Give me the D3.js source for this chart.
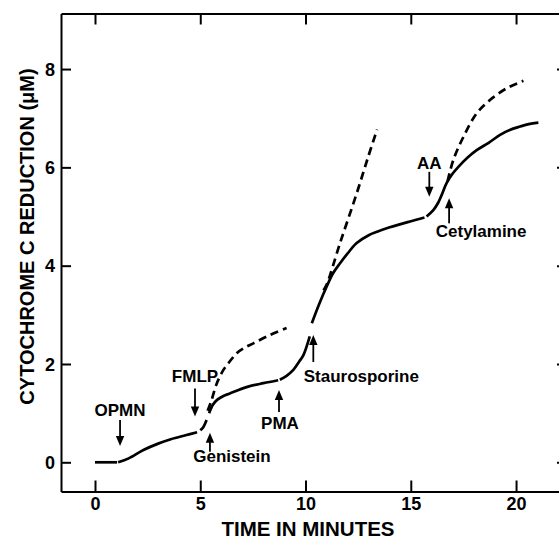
<!DOCTYPE html>
<html><head><meta charset="utf-8">
<script src="https://cdn.jsdelivr.net/npm/d3@7"></script>
<style>body{margin:0;background:#fff}svg{display:block}text{font-family:"Liberation Sans",Arial,sans-serif;font-weight:bold;fill:#000}</style>
</head><body><svg id="c" width="559" height="538"></svg>
<script>
// ---- data ----
const xTicks = [0, 5, 10, 15, 20];
const yTicks = [0, 2, 4, 6, 8];
const xTitle = "TIME IN MINUTES";
const yTitle = "CYTOCHROME C REDUCTION (\u03BCM)";

// solid trace, drawn as separate pieces (breaks at each addition)
const solidBaseline = [[0,0],[1.05,0]];
const solidOPMN = [[1.1,0],[1.6,0.08],[2.3,0.25],[3.0,0.38],[3.6,0.47],[4.3,0.55],[4.85,0.61]];
const solidFMLP = [[5.0,0.65],[5.15,0.72],[5.3,0.86]];
const solidGenistein = [[5.42,1.0],[5.6,1.17],[5.8,1.27],[6.1,1.35],[6.4,1.4],[7.2,1.53],[8.0,1.61],[8.7,1.67]];
const solidPMA = [[8.78,1.68],[9.1,1.76],[9.42,1.88],[9.7,2.05],[9.9,2.18],[10.2,2.56]];
const solidStauro = [[10.3,2.83],[10.65,3.22],[11.0,3.57],[11.3,3.84],[11.64,4.05],[12.0,4.25],[12.43,4.46],[13.0,4.62],[13.4,4.69],[14.0,4.78],[14.96,4.9],[15.65,4.98]];
const solidAA = [[15.75,5.0],[16.07,5.13],[16.3,5.28],[16.47,5.44],[16.7,5.68],[17.0,5.88],[17.26,6.01],[17.7,6.2],[18.13,6.35],[18.7,6.5],[19.24,6.66],[19.7,6.76],[20.19,6.83],[20.6,6.88],[21.06,6.91]];

// dashed traces (controls without the inhibitor)
const dashedFMLP = [[5.35,1.05],[5.54,1.27],[5.78,1.6],[6.1,1.88],[6.4,2.05],[6.73,2.22],[7.1,2.33],[7.52,2.42],[8.31,2.59],[9.1,2.73]];
const dashedPMA = [[10.85,3.5],[11.0,3.61],[11.64,4.46],[12.43,5.47],[12.98,6.22],[13.4,6.77]];
const dashedAA = [[16.75,5.72],[17.02,6.15],[17.5,6.62],[18.13,7.1],[18.76,7.37],[19.56,7.61],[20.35,7.76]];

// additions: label, time (min), value at arrow tip, direction
const eventLabels = ["OPMN", "FMLP", "Genistein", "PMA", "Staurosporine", "AA", "Cetylamine"];
const eventTimes  = [1.19, 4.75, 5.46, 8.74, 10.37, 15.88, 16.82];
const eventTips   = [0.33, 0.93, 0.60, 1.47, 2.59, 5.40, 5.37];
const eventDirs   = ["down", "down", "up", "up", "up", "down", "up"];

// ---- layout ----
const svg = d3.select("#c");
const x = d3.scaleLinear().domain([-1.615, 22.42]).range([61, 567]);
const y = d3.scaleLinear().domain([-0.594, 9.13]).range([491.5, 13.5]);

const lw = 2;
const gB = svg.append("g").attr("transform", `translate(0,${y.range()[0]})`)
  .call(d3.axisBottom(x).tickValues(xTicks).tickSizeInner(-11).tickSizeOuter(0).tickPadding(6));
const gT = svg.append("g").attr("transform", `translate(0,${y.range()[1]})`)
  .call(d3.axisTop(x).tickValues(xTicks).tickSizeInner(-11).tickSizeOuter(0).tickFormat(""));
const gL = svg.append("g").attr("transform", `translate(${x.range()[0]},0)`)
  .call(d3.axisLeft(y).tickValues(yTicks).tickSizeInner(-10).tickSizeOuter(0).tickPadding(6));
const gR = svg.append("g").attr("transform", `translate(${x.range()[1]},0)`)
  .call(d3.axisRight(y).tickValues(yTicks).tickSizeInner(-10).tickSizeOuter(0).tickFormat(""));
[gB, gT, gL, gR].forEach(g => {
  g.selectAll("path.domain").attr("stroke", "#000").attr("stroke-width", lw);
  g.selectAll(".tick line").attr("stroke", "#000").attr("stroke-width", lw);
  g.selectAll(".tick text").style("font-size", "18px").style("font-family", '"Liberation Sans",Arial,sans-serif').style("font-weight", "bold").attr("fill", "#000");
});
gL.selectAll(".tick text").attr("dy", "0.35em");

// titles
svg.append("text").attr("x", 308).attr("y", 528).attr("text-anchor", "middle")
  .attr("dominant-baseline", "central").style("font-size", "20.5px").text(xTitle);
svg.append("text").attr("transform", "translate(27,236.5) rotate(-90)").attr("text-anchor", "middle")
  .attr("dominant-baseline", "central").style("font-size", "20px").text(yTitle);

// traces
const line = d3.line().x(d => x(d[0])).y(d => y(d[1])).curve(d3.curveCatmullRom);
[solidBaseline, solidOPMN, solidFMLP, solidGenistein, solidPMA, solidStauro, solidAA].forEach(s => {
  svg.append("path").attr("d", line(s)).attr("fill", "none").attr("stroke", "#000")
    .attr("stroke-width", 2.7).attr("stroke-linecap", "butt");
});
[dashedFMLP, dashedPMA, dashedAA].forEach(s => {
  svg.append("path").attr("d", line(s)).attr("fill", "none").attr("stroke", "#000")
    .attr("stroke-width", 2.7).attr("stroke-dasharray", "8,5");
});

// annotations
const arrowLen = [26, 28, 19, 22, 27, 25, 25];
const textOff = [[0,-36], [0,-40], [22,24], [1,33], [48,42], [0,-33], [32,33]];
eventLabels.forEach((lab, i) => {
  const ax = x(eventTimes[i]), tip = y(eventTips[i]);
  const dir = eventDirs[i] === "down" ? 1 : -1;
  const tail = tip - dir * arrowLen[i];
  const headL = 10, headW = 4.2;
  svg.append("line").attr("x1", ax).attr("x2", ax).attr("y1", tail).attr("y2", tip - dir * (headL - 2))
    .attr("stroke", "#000").attr("stroke-width", 1.8);
  svg.append("path").attr("d", `M${ax},${tip} L${ax - headW},${tip - dir * headL} L${ax + headW},${tip - dir * headL} Z`)
    .attr("fill", "#000");
  svg.append("text").attr("x", ax + textOff[i][0]).attr("y", tip + textOff[i][1])
    .attr("text-anchor", "middle").attr("dominant-baseline", "central")
    .style("font-size", "17px").text(lab);
});
</script></body></html>
